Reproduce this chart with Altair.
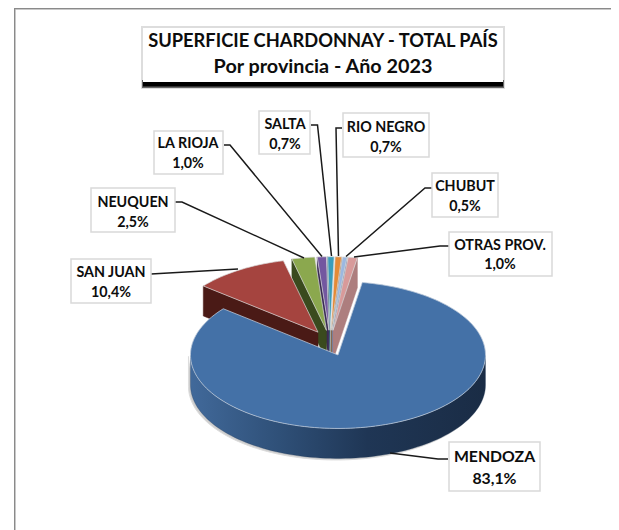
import math
import altair as alt
import pandas as pd

# ---- values
provinces = ["MENDOZA", "SAN JUAN", "NEUQUEN", "LA RIOJA", "SALTA", "RIO NEGRO", "CHUBUT", "OTRAS PROV."]
shares = [83.1, 10.4, 2.5, 1.0, 0.7, 0.7, 0.5, 1.0]
share_labels = ["83,1%", "10,4%", "2,5%", "1,0%", "0,7%", "0,7%", "0,5%", "1,0%"]
title_lines = ["SUPERFICIE CHARDONNAY - TOTAL PAÍS", "Por provincia - Año 2023"]

# ---- styles
top_colors = ["#4471A7", "#A5443F", "#8BA84E", "#7357A0", "#3A9DBB", "#E58A36", "#9CB8E0", "#D89A9A"]
wall_colors = ["#1B2F4A", "#4A1A16", "#3A4A1E", "#3A2A55", "#1E5568", "#8A5018", "#6A80A5", "#AD7E7E"]

# ---- layout (page pixels)
A, B, DEPTH = 147.5, 73.5, 30.0
EXPLODE_X, EXPLODE_Y = 22.5, 12.8
CX, CY = 330.0, 343.0
START = 9.5
boxes = {
    "MENDOZA": (449, 540, 442, 491, 494.5, 462, 484, 15.8),
    "SAN JUAN": (71, 151, 259, 303, 111, 277, 297, 14.3),
    "NEUQUEN": (91, 175, 188, 232, 133, 207, 227, 14.3),
    "LA RIOJA": (154, 223, 131, 174, 188, 148, 168, 14.3),
    "SALTA": (259, 310, 111, 154, 285, 129, 149, 14.3),
    "RIO NEGRO": (343, 429, 113, 157, 386, 132, 152, 14.3),
    "CHUBUT": (432, 498, 173, 217, 465, 191, 211, 14.3),
    "OTRAS PROV.": (449, 552, 232, 276, 500, 250, 269, 14.3),
}
leaders = {
    "MENDOZA": [(448, 459), (438, 459), (390, 453)],
    "SAN JUAN": [(151, 274), (238, 269)],
    "NEUQUEN": [(175, 202), (182, 202), (304, 258)],
    "LA RIOJA": [(224, 145), (230, 145), (322, 256.5)],
    "SALTA": [(311, 125), (317.5, 125), (331.5, 256)],
    "RIO NEGRO": [(342, 128), (336, 128), (338.5, 256)],
    "CHUBUT": [(435, 188), (425, 188), (346, 256.5)],
    "OTRAS PROV.": [(449, 246), (440, 246), (354, 257)],
}

sx = alt.Scale(domain=[8, 611], range=[0, 603], nice=False, zero=False)
sy = alt.Scale(domain=[8, 530], range=[0, 522], nice=False, zero=False)
X = alt.X("x:Q", scale=sx, axis=None)
Y = alt.Y("y:Q", scale=sy, axis=None)
X2 = alt.X2("x2:Q")
Y2 = alt.Y2("y2:Q")


def rect(x1, x2, y1, y2, **kw):
    d = pd.DataFrame({"x": [x1], "x2": [x2], "y": [y1], "y2": [y2]})
    return alt.Chart(d).mark_rect(**kw).encode(x=X, x2=X2, y=Y, y2=Y2)


def poly(points, **kw):
    d = pd.DataFrame({"x": [p[0] for p in points], "y": [p[1] for p in points], "o": list(range(len(points)))})
    return alt.Chart(d).mark_line(**kw).encode(x=X, y=Y, order=alt.Order("o:Q"))


def text(t, x, y, size, **kw):
    d = pd.DataFrame({"x": [x], "y": [y], "t": [t]})
    return (alt.Chart(d).mark_text(font="Lato", fontWeight="bold", fontSize=size, color="#0d0d0d", align="center",
                                   baseline="alphabetic", **kw).encode(x=X, y=Y, text="t:N"))


def pt(c, deg):
    r = math.radians(deg)
    return (c[0] + A * math.sin(r), c[1] - B * math.cos(r))


def arc(c, a0, a1):
    n = max(2, int(abs(a1 - a0) / 2) + 2)
    return [pt(c, a0 + (a1 - a0) * i / (n - 1)) for i in range(n)]


layers = []
layers.append(rect(8, 611, 8, 530, fill="white"))
layers.append(rect(14, 15.5, 8, 530, fill="#8a8a8a"))
layers.append(rect(14, 611, 8, 9.5, fill="#8a8a8a"))
layers.append(rect(15.5, 16, 9.5, 530, fill="#cccccc"))
layers.append(rect(15.5, 611, 9.5, 10, fill="#cccccc"))

# title box
layers.append(rect(141, 505, 26, 89, fill="#dddddd"))
layers.append(rect(142, 504, 80, 88, fill="#666666"))
layers.append(rect(143, 503, 82, 86.5, fill="#000000"))
layers.append(rect(143, 503, 28, 82, fill="white"))
layers.append(text(title_lines[0], 323, 47, 18.3))
layers.append(text(title_lines[1], 323, 73, 19.8))

# pie geometry from the shares
total = sum(shares)
angle = START
spans = []
for s in shares:
    span = s * 360 / total
    spans.append((angle, angle + span))
    angle += span


def centre(i):
    a0, a1 = spans[i]
    m = math.radians((a0 + a1) / 2)
    return (CX + EXPLODE_X * math.sin(m), CY - EXPLODE_Y * math.cos(m))


# back slices, centre outwards so outer tops cover inner walls
for i in [4, 3, 2, 1, 5, 6, 7]:
    c = centre(i)
    a0, a1 = spans[i]
    edge = pt(c, a0) if i <= 4 else pt(c, a1)
    wall = [c, edge, (edge[0], edge[1] + DEPTH), (c[0], c[1] + DEPTH), c]
    layers.append(poly(wall, fill=wall_colors[i], stroke=wall_colors[i], strokeWidth=0.5))
    top = [c] + arc(c, a0, a1) + [c]
    layers.append(poly(top, fill=top_colors[i], stroke="#d9d9d9", strokeWidth=0.7))

# Mendoza
c = centre(0)
a0, a1 = spans[0]
front = arc(c, 90, 270)
wall = front + [(p[0], p[1] + DEPTH) for p in reversed(front)] + [front[0]]
shadow = [(p[0] - 2, p[1] + 1.5) for p in wall]
layers.append(poly(shadow, fill="#cfcfcf", stroke="#dddddd", strokeWidth=1))
gradient = {
    "gradient": "linear", "x1": 0, "x2": 1, "y1": 0, "y2": 0,
    "stops": [
        {"offset": 0, "color": "#41699A"},
        {"offset": 0.3, "color": "#2F5078"},
        {"offset": 0.6, "color": "#1F3655"},
        {"offset": 1, "color": "#1A2C45"},
    ],
}
layers.append(poly(wall, fill=gradient, stroke="#1F3655", strokeWidth=0.3))
top = [c] + arc(c, a0, a1) + [c]
layers.append(poly(top, fill=top_colors[0], stroke="#b9c6d8", strokeWidth=0.8))

# leaders and labels
for name, pts in leaders.items():
    layers.append(poly(pts, stroke="#1a1a1a", strokeWidth=1.5))
for name, lab in zip(provinces, share_labels):
    x1, x2, y1, y2, cx, b1, b2, size = boxes[name]
    layers.append(rect(x1, x2, y1, y2, fill="white", stroke="#d9d9d9", strokeWidth=1.5))
    layers.append(text(name, cx, b1, size))
    layers.append(text(lab, cx, b2, size))

chart = alt.layer(*layers).properties(
    width=603, height=522, padding=0,
    autosize=alt.AutoSizeParams(type="none"),
).configure_view(stroke=None)

chart.save("out.html", embed_options={"renderer": "svg", "actions": False})
